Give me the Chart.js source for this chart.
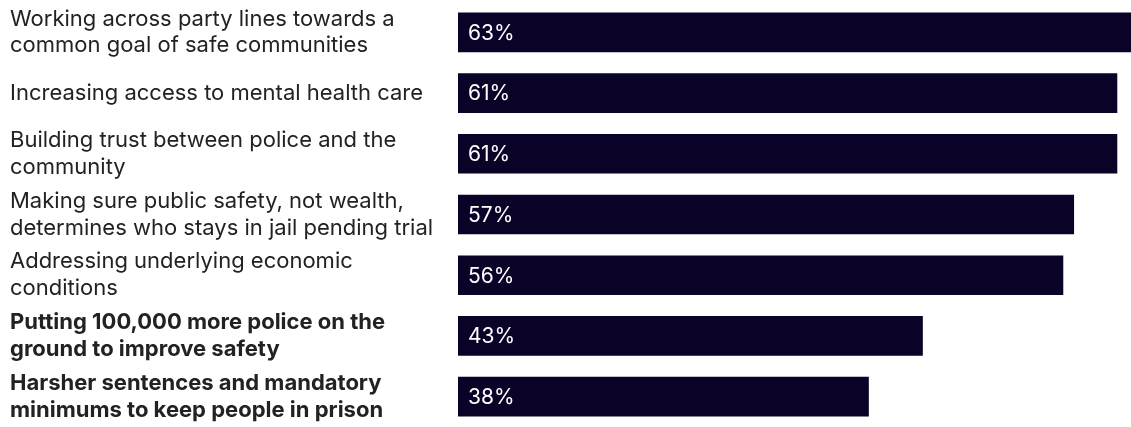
<!DOCTYPE html>
<html>
<head>
<meta charset="utf-8">
<script src="https://cdn.jsdelivr.net/npm/chart.js@4"></script>
<style>
  html, body { margin: 0; padding: 0; background: #fff; }
  #wrap { width: 1131px; height: 427px; position: relative; }
</style>
</head>
<body>
<div id="wrap"><canvas id="myChart"></canvas></div>
<script>
// ******************* data

let labels = [
  ['Working across party lines towards a', 'common goal of safe communities'],
  'Increasing access to mental health care',
  ['Building trust between police and the', 'community'],
  ['Making sure public safety, not wealth,', 'determines who stays in jail pending trial'],
  ['Addressing underlying economic', 'conditions'],
  ['Putting 100,000 more police on the', 'ground to improve safety'],
  ['Harsher sentences and mandatory', 'minimums to keep people in prison']
];
let values = [63, 61, 61, 57, 56, 43, 38];
let boldRows = [5, 6];

let barColor = '#0b0228';
let fontFamily = 'Inter, "Noto Sans", sans-serif';

// ******************* value labels inside bars

let valueLabels = {
  id: 'valueLabels',
  afterDatasetsDraw(chart) {
    let c = chart.ctx;
    let meta = chart.getDatasetMeta(0);
    c.save();
    c.fillStyle = '#ffffff';
    c.font = '21px ' + fontFamily;
    c.textBaseline = 'middle';
    c.textAlign = 'left';
    meta.data.forEach(function(bar, i){
      c.fillText(values[i] + '%', bar.base + 10, bar.y + 1);
    });
    c.restore();
  }
};

// ******************* chart

let ctx = document.getElementById('myChart');

new Chart(ctx, {
  type: 'bar',
  data: {
    labels: labels,
    datasets: [{
      data: values,
      backgroundColor: barColor,
      borderWidth: 0,
      barThickness: 39
    }]
  },
  options: {
    indexAxis: 'y',
    responsive: true,
    maintainAspectRatio: false,
    animation: false,
    layout: { padding: { left: 10, top: 2, right: 0, bottom: 0 } },
    plugins: {
      legend: { display: false },
      tooltip: { enabled: false }
    },
    scales: {
      x: {
        display: false,
        min: 0,
        max: 62.3
      },
      y: {
        grid: { display: false },
        border: { display: false },
        afterFit: function(scale){
          scale.width = 448;
          scale.paddingTop = 0;
          scale.paddingBottom = 0;
        },
        ticks: {
          crossAlign: 'far',
          padding: 0,
          color: '#222222',
          font: function(c){
            return {
              family: fontFamily,
              size: 22,
              lineHeight: 1.22,
              weight: boldRows.includes(c.index) ? 'bold' : 'normal'
            };
          }
        }
      }
    }
  },
  plugins: [valueLabels]
});
</script>
</body>
</html>
